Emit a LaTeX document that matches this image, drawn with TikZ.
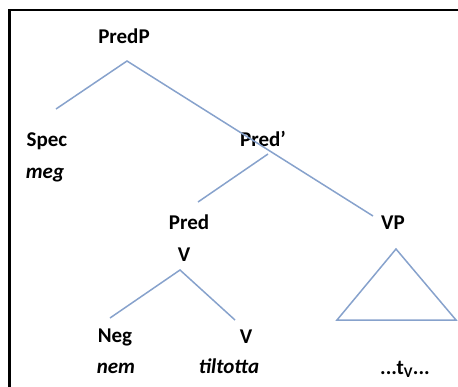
\documentclass[tikz,border=0pt]{standalone}
\usepackage{fontspec}
\setmainfont{Carlito}
\definecolor{branch}{RGB}{135,162,204}
\begin{document}
\begin{tikzpicture}[x=1pt,y=-1pt,
  lab/.style={anchor=base,inner sep=0pt,font=\fontsize{21}{25}\selectfont\bfseries},
  word/.style={anchor=base,inner sep=0pt,font=\fontsize{21}{25}\selectfont\bfseries\itshape},
  branchline/.style={draw=branch,line width=1.5pt}]
\useasboundingbox (0,0) rectangle (458,386);
\draw[line width=2.2pt] (9.5,390) -- (9.5,10) -- (462,10);
% labels
\node[lab] (predp) at (124,43) {PredP};
\node[lab] (spec) at (47,146) {Spec};
\node[word] (meg) at (45,178) {meg};
\node[lab] (predbar) at (263,146) {Pred’};
\node[lab] (pred) at (189,229) {Pred};
\node[lab] (vhead) at (184,261) {V};
\node[lab] (vp) at (393,229) {VP};
\node[lab] (neg) at (115,342) {Neg};
\node[word] (nem) at (116,373) {nem};
\node[lab] (vlow) at (246,343) {V};
\node[word] (tilt) at (229,373) {tiltotta};
\node[lab] (trace) at (405,374) {...t\textsubscript{V}...};
% branch end points
\coordinate (p1) at (127,61);
\coordinate (p1l) at (56,109);
\coordinate (p1r) at (373,216);
\coordinate (p2) at (268,154);
\coordinate (p2l) at (198,202);
\coordinate (p3) at (180,270);
\coordinate (p3l) at (110,318);
\coordinate (p3r) at (235,320);
\coordinate (t1) at (396,249);
\coordinate (t2) at (337,320);
\coordinate (t3) at (456,320);
\draw[branchline] (p1l) -- (p1) -- (p1r);
\draw[branchline] (p2) -- (p2l);
\draw[branchline] (p3l) -- (p3) -- (p3r);
\draw[branchline,line join=miter] (t1) -- (t2) -- (t3) -- cycle;
\end{tikzpicture}
\end{document}
